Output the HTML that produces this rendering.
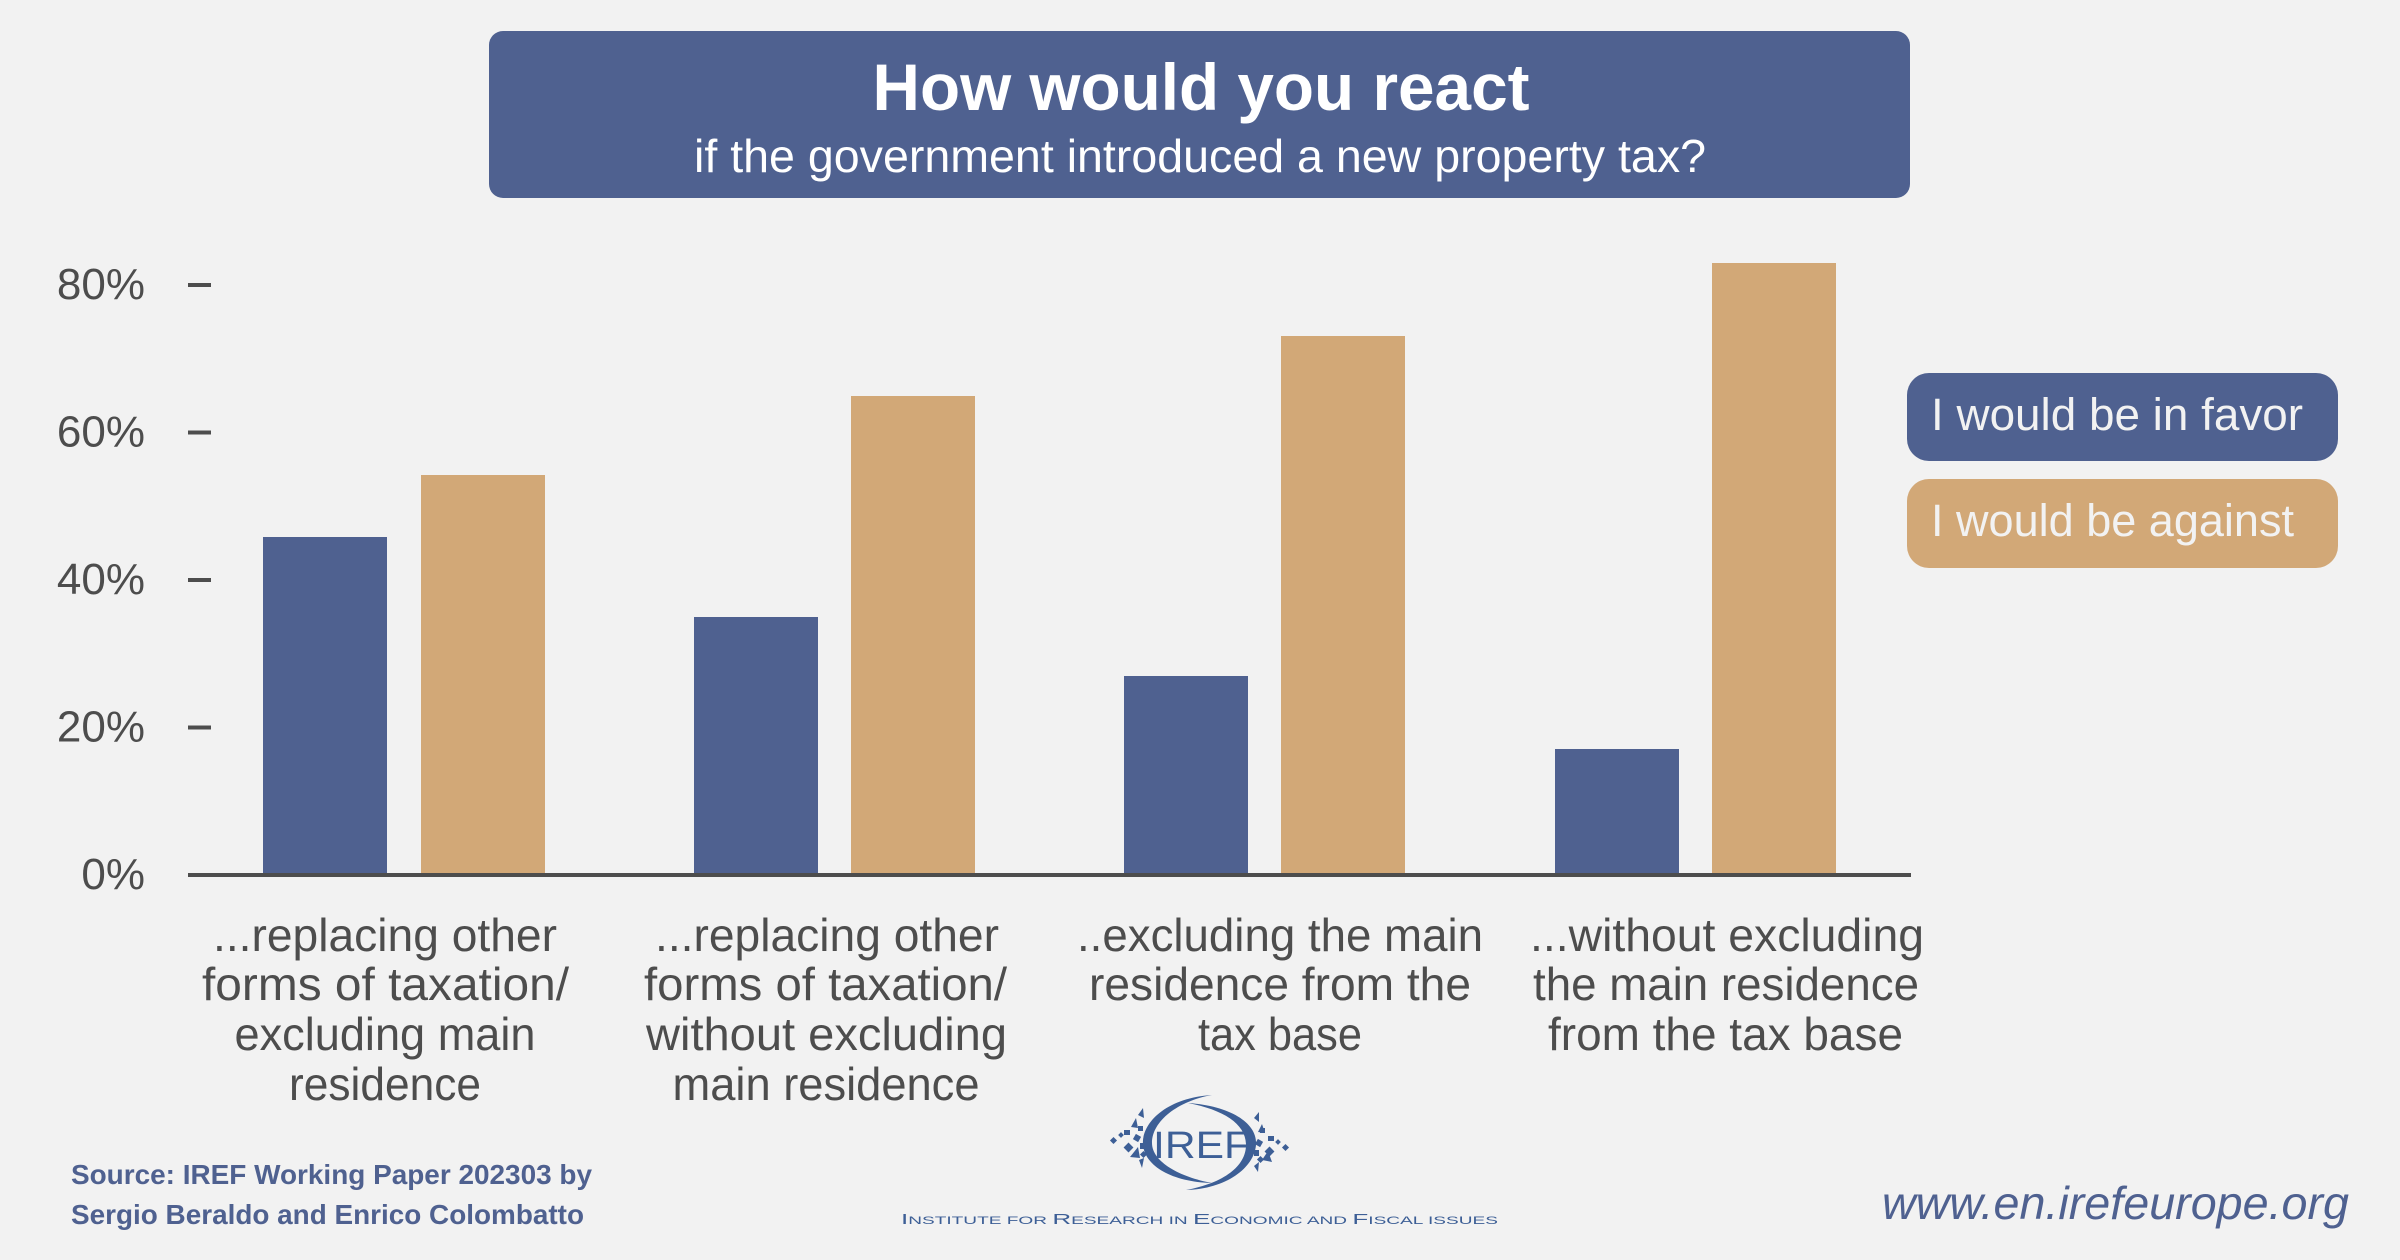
<!DOCTYPE html>
<html>
<head>
<meta charset="utf-8">
<style>
html,body{margin:0;padding:0;background:#f2f2f2;}
svg{display:block;}
text{font-family:"Liberation Sans",sans-serif;}
</style>
</head>
<body>
<svg width="2400" height="1260" viewBox="0 0 2400 1260" xmlns="http://www.w3.org/2000/svg">
<rect x="0" y="0" width="2400" height="1260" fill="#f2f2f2"/>

<!-- Title box -->
<rect x="489" y="31" width="1421" height="167" rx="14" ry="14" fill="#4f6190"/>
<text x="1201" y="110" font-size="66" font-weight="bold" fill="#ffffff" text-anchor="middle" textLength="657" lengthAdjust="spacingAndGlyphs">How would you react</text>
<text x="1200" y="172" font-size="46" fill="#ffffff" text-anchor="middle" textLength="1012" lengthAdjust="spacingAndGlyphs">if the government introduced a new property tax?</text>

<!-- Y axis labels -->
<g font-size="44" fill="#4d4d4d" text-anchor="end">
<text x="145" y="299">80%</text>
<text x="145" y="446.5">60%</text>
<text x="145" y="594">40%</text>
<text x="145" y="741.5">20%</text>
<text x="145" y="889">0%</text>
</g>
<g fill="#4d4d4d">
<rect x="188" y="283" width="23" height="4"/>
<rect x="188" y="430.5" width="23" height="4"/>
<rect x="188" y="578" width="23" height="4"/>
<rect x="188" y="725.5" width="23" height="4"/>
</g>

<!-- Bars -->
<g fill="#4f6190">
<rect x="263" y="537" width="124" height="338"/>
<rect x="694" y="617" width="124" height="258"/>
<rect x="1124" y="676" width="124" height="199"/>
<rect x="1555" y="749" width="124" height="126"/>
</g>
<g fill="#d2a877">
<rect x="421" y="475" width="124" height="400"/>
<rect x="851" y="396" width="124" height="479"/>
<rect x="1281" y="336" width="124" height="539"/>
<rect x="1712" y="263" width="124" height="612"/>
</g>

<!-- Axis baseline -->
<rect x="188" y="873" width="1723" height="4" fill="#4d4d4d"/>

<!-- Category labels -->
<g font-size="46" fill="#4d4d4d" text-anchor="middle">
<text x="385" y="951" textLength="344" lengthAdjust="spacingAndGlyphs">...replacing other</text>
<text x="385.5" y="1000" textLength="367" lengthAdjust="spacingAndGlyphs">forms of taxation/</text>
<text x="385" y="1050" textLength="301" lengthAdjust="spacingAndGlyphs">excluding main</text>
<text x="385" y="1100" textLength="192" lengthAdjust="spacingAndGlyphs">residence</text>

<text x="827" y="951" textLength="344" lengthAdjust="spacingAndGlyphs">...replacing other</text>
<text x="825.5" y="1000" textLength="363" lengthAdjust="spacingAndGlyphs">forms of taxation/</text>
<text x="826.5" y="1050" textLength="361" lengthAdjust="spacingAndGlyphs">without excluding</text>
<text x="826" y="1100" textLength="307" lengthAdjust="spacingAndGlyphs">main residence</text>

<text x="1280" y="951" textLength="406" lengthAdjust="spacingAndGlyphs">..excluding the main</text>
<text x="1280" y="1000" textLength="382" lengthAdjust="spacingAndGlyphs">residence from the</text>
<text x="1280" y="1050" textLength="164" lengthAdjust="spacingAndGlyphs">tax base</text>

<text x="1727" y="951" textLength="394" lengthAdjust="spacingAndGlyphs">...without excluding</text>
<text x="1726" y="1000" textLength="386" lengthAdjust="spacingAndGlyphs">the main residence</text>
<text x="1725.5" y="1050" textLength="355" lengthAdjust="spacingAndGlyphs">from the tax base</text>
</g>

<!-- Legend -->
<rect x="1907" y="373" width="431" height="88" rx="22" ry="22" fill="#4f6190"/>
<text x="1931" y="430" font-size="45" fill="#f2f2f2" textLength="372" lengthAdjust="spacingAndGlyphs">I would be in favor</text>
<rect x="1907" y="479" width="431" height="89" rx="22" ry="22" fill="#d2a877"/>
<text x="1931" y="536" font-size="45" fill="#f2f2f2" textLength="363" lengthAdjust="spacingAndGlyphs">I would be against</text>

<!-- Source -->
<g font-size="28" font-weight="bold" fill="#4f6190">
<text x="71" y="1184" textLength="521" lengthAdjust="spacingAndGlyphs">Source: IREF Working Paper 202303 by</text>
<text x="71" y="1224" textLength="513" lengthAdjust="spacingAndGlyphs">Sergio Beraldo and Enrico Colombatto</text>
</g>

<!-- Logo -->
<g fill="#3d5f96">
<path d="M1212,1095 C1165,1098 1141,1124 1143,1145 C1145,1166 1172,1182 1212,1183 C1180,1177 1152,1162 1152,1143 C1152,1121 1178,1101 1212,1095 Z"/>
<path d="M1188,1103 C1232,1106 1258,1124 1256,1145 C1254,1168 1226,1189 1186,1190 C1224,1183 1246,1166 1246,1145 C1246,1124 1224,1110 1188,1103 Z"/>
<text x="1153" y="1158" font-size="38" textLength="97" lengthAdjust="spacingAndGlyphs">IREF</text>
<!-- left particles -->
<rect x="1111" y="1138" width="5" height="5" transform="rotate(45 1113.5 1140.5)"/>
<rect x="1119" y="1133" width="4" height="4" transform="rotate(45 1121 1135)"/>
<rect x="1124" y="1130" width="6" height="5"/>
<rect x="1125" y="1144" width="7" height="7" transform="rotate(45 1128.5 1147.5)"/>
<polygon points="1130,1157 1138,1147 1140,1158"/>
<polygon points="1131,1127 1136,1118 1138,1128"/>
<rect x="1134" y="1135" width="6" height="6" transform="rotate(30 1137 1138)"/>
<rect x="1140" y="1143" width="5" height="6"/>
<polygon points="1138,1115 1143,1108 1144,1118"/>
<polygon points="1139,1160 1144,1158 1142,1168"/>
<rect x="1138" y="1126" width="5" height="5"/>
<rect x="1141" y="1152" width="5" height="5" transform="rotate(45 1143.5 1154.5)"/>
<!-- right particles -->
<rect x="1283" y="1145" width="5" height="5" transform="rotate(45 1285.5 1147.5)"/>
<rect x="1276" y="1140" width="4" height="4" transform="rotate(45 1278 1142)"/>
<rect x="1268" y="1136" width="6" height="5"/>
<rect x="1266" y="1148" width="7" height="7" transform="rotate(45 1269.5 1151.5)"/>
<polygon points="1262,1160 1268,1151 1272,1162"/>
<polygon points="1258,1132 1262,1124 1265,1133"/>
<rect x="1256" y="1140" width="6" height="6" transform="rotate(30 1259 1143)"/>
<rect x="1254" y="1150" width="5" height="6"/>
<polygon points="1254,1118 1259,1112 1259,1122"/>
<polygon points="1254,1166 1259,1162 1258,1172"/>
<rect x="1260" y="1128" width="5" height="5"/>
<rect x="1258" y="1157" width="5" height="5" transform="rotate(45 1260.5 1159.5)"/>
<text x="901" y="1224" fill="#3d5f96" textLength="597" lengthAdjust="spacingAndGlyphs"><tspan font-size="15">I</tspan><tspan font-size="11">NSTITUTE FOR </tspan><tspan font-size="15">R</tspan><tspan font-size="11">ESEARCH IN </tspan><tspan font-size="15">E</tspan><tspan font-size="11">CONOMIC AND </tspan><tspan font-size="15">F</tspan><tspan font-size="11">ISCAL ISSUES</tspan></text>
</g>

<!-- URL -->
<text x="1882" y="1219" font-size="46" font-style="italic" fill="#4f6190" textLength="467" lengthAdjust="spacingAndGlyphs">www.en.irefeurope.org</text>
</svg>
</body>
</html>
